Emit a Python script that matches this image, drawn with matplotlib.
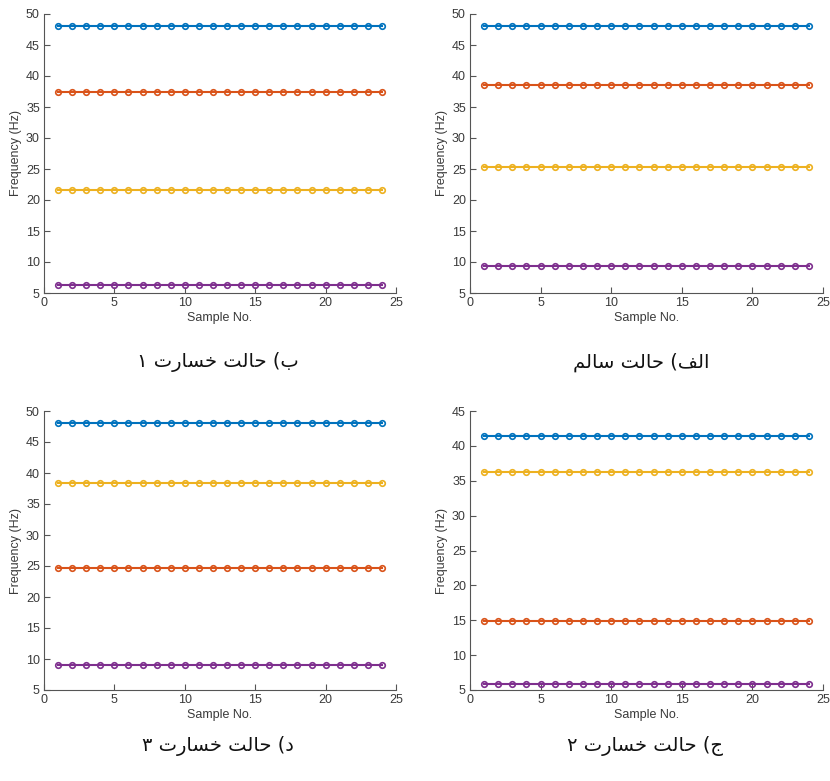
import matplotlib
matplotlib.use("Agg")
import matplotlib.pyplot as plt
import numpy as np

# ---- data ----
samples = list(range(1, 25))
series_colors = ["#0072BD", "#D95319", "#EDB120", "#7E2F8E"]

# panel values: blue, orange, yellow, purple
vals_alef = [48.0, 38.5, 25.4, 9.4]     # healthy
vals_be = [48.0, 37.4, 21.6, 6.3]       # damage 1
vals_jim = [41.4, 14.9, 36.2, 5.9]      # damage 2
vals_dal = [48.0, 24.6, 38.4, 9.0]      # damage 3

ylims = {"alef": (5, 50), "be": (5, 50), "jim": (5, 45), "dal": (5, 50)}

# Captions written in visual (left-to-right) order using Arabic presentation forms
w_halat = "\uFE96\uFEDF\uFE8E\uFEA3"          # حالت
w_khasarat = "\uFE95\uFEAD\uFE8E\uFEB4\uFEA7"  # خسارت
w_salem = "\uFEE2\uFEDF\uFE8E\uFEB3"          # سالم
w_alef = "\uFED2\uFEDF\uFE8D"                 # الف
cap_alef = w_salem + " " + w_halat + " (" + w_alef
cap_be = "\u06F1 " + w_khasarat + " " + w_halat + " (" + "\uFE8F"
cap_jim = "\u06F2 " + w_khasarat + " " + w_halat + " (" + "\uFE9D"
cap_dal = "\u06F3 " + w_khasarat + " " + w_halat + " (" + "\uFEA9"

W, H = 830, 781
plt.rcParams['font.family'] = ['Liberation Sans', 'DejaVu Sans']
fig = plt.figure(figsize=(W / 100, H / 100), dpi=100)

def px_axes(l, t, r, b):
    return fig.add_axes([l / W, 1 - b / H, (r - l) / W, (b - t) / H])

panels = [
    (px_axes(44, 14, 396, 293), vals_be, ylims["be"], cap_be, (218, 362)),
    (px_axes(470, 14, 823, 293), vals_alef, ylims["alef"], cap_alef, (641, 362)),
    (px_axes(44, 411, 396, 690), vals_dal, ylims["dal"], cap_dal, (218, 746)),
    (px_axes(470, 411, 823, 690), vals_jim, ylims["jim"], cap_jim, (645, 746)),
]

axcol = "#555555"
txtcol = "#3a3a3a"
for ax, vals, yl, cap, (cx, cy) in panels:
    for v, c in zip(vals, series_colors):
        ax.plot(samples, [v] * len(samples), color=c, lw=1.5, marker="o",
                markersize=4, markerfacecolor="none", markeredgewidth=1.2)
    ax.set_xlim(0, 25)
    ax.set_ylim(*yl)
    ax.set_xticks(range(0, 26, 5))
    ax.set_yticks(range(yl[0], yl[1] + 1, 5))
    for s in ["top", "right"]:
        ax.spines[s].set_visible(False)
    for s in ["left", "bottom"]:
        ax.spines[s].set_color(axcol)
        ax.spines[s].set_linewidth(0.8)
    ax.tick_params(direction="in", length=4, width=0.8, colors=axcol,
                   labelsize=9, labelcolor=txtcol, pad=3)
    ax.set_xlabel("Sample No.", fontsize=9, color=txtcol, labelpad=2)
    ax.set_ylabel("Frequency (Hz)", fontsize=9, color=txtcol, labelpad=3)
    fig.text(cx / W, 1 - cy / H, cap, ha="center", va="center",
             fontsize=14, color="#111111", family=["DejaVu Sans"])

fig.savefig("out.png", dpi=100)
